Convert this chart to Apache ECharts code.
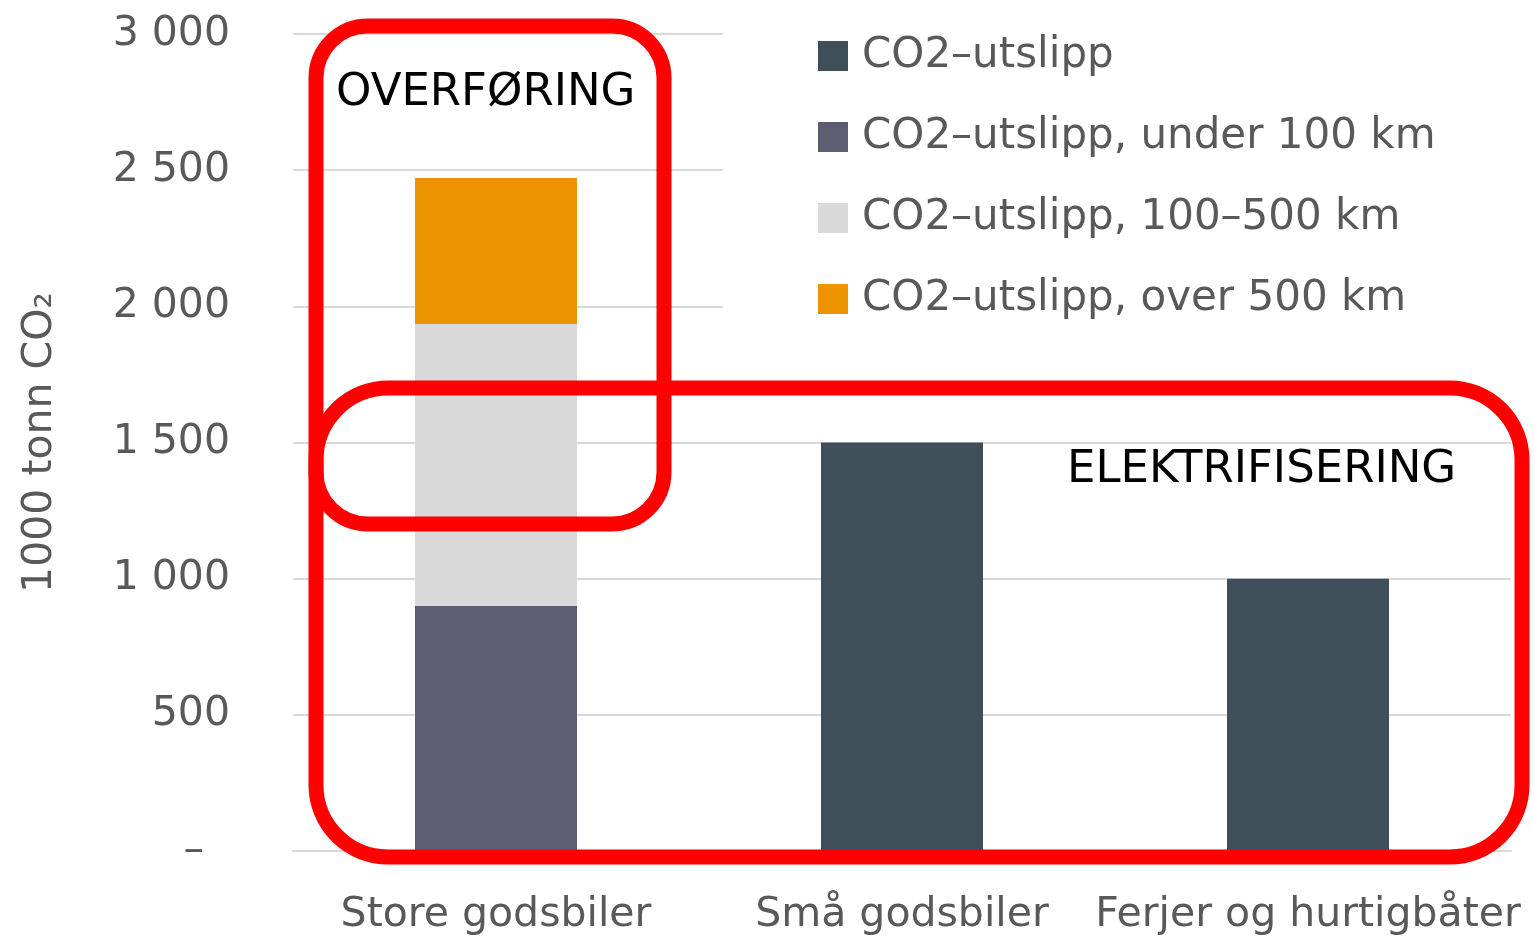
<!DOCTYPE html>
<html><head><meta charset="utf-8">
<script src="https://cdn.jsdelivr.net/npm/echarts@6/dist/echarts.min.js"></script>
<style>html,body{margin:0;padding:0;background:#fff}#c{width:1535px;height:937px}</style>
</head><body><div id="c"></div>
<script>
const categories = ['Store godsbiler', 'Små godsbiler', 'Ferjer og hurtigbåter'];
const seriesNames = ['CO2–utslipp', 'CO2–utslipp, under 100 km', 'CO2–utslipp, 100–500 km', 'CO2–utslipp, over 500 km'];
const co2Total = [null, 1500, 1000];
const co2Under100 = [900, null, null];
const co2_100_500 = [1035, null, null];
const co2Over500 = [536, null, null];
const colors = ['#3f4f5a', '#5c5c72', '#d9d9d9', '#ed9400'];
const FONT = '"DejaVu Sans", sans-serif';

const chart = echarts.init(document.getElementById('c'));
const mk = (name, data, color) => ({
  name, type: 'bar', stack: 'tot', data, barWidth: 162,
  itemStyle: { color }, emphasis: { disabled: true }
});
chart.setOption({
  animation: false,
  textStyle: { fontFamily: FONT },
  grid: { left: 293, right: 24, top: 34, bottom: 86 },
  legend: {
    orient: 'vertical', left: 723, top: 0,
    padding: [35, 120, 20, 95],
    backgroundColor: '#fff',
    itemWidth: 30, itemHeight: 30, itemGap: 39,
    icon: 'rect',
    data: seriesNames,
    textStyle: { fontSize: 42, color: '#595959', fontFamily: FONT, padding: [0,0,0,9] }
  },
  xAxis: {
    type: 'category', data: categories,
    axisLine: { lineStyle: { color: '#d9d9d9', width: 2 } },
    axisTick: { show: false },
    axisLabel: { fontSize: 41, color: '#595959', margin: 44, interval: 0 }
  },
  yAxis: {
    type: 'value', min: 0, max: 3000, interval: 500,
    name: '1000 tonn CO₂', nameLocation: 'middle', nameGap: 232, nameRotate: 90,
    nameTextStyle: { fontSize: 41, color: '#595959' },
    axisLabel: {
      fontSize: 41, color: '#595959', margin: 63,
      formatter: v => v === 0 ? '–  ' : String(v).replace(/\B(?=(\d{3})+(?!\d))/g, ' ')
    },
    splitLine: { lineStyle: { color: '#d9d9d9', width: 2 } }
  },
  series: [
    mk(seriesNames[0], co2Total, colors[0]),
    mk(seriesNames[1], co2Under100, colors[1]),
    mk(seriesNames[2], co2_100_500, colors[2]),
    mk(seriesNames[3], co2Over500, colors[3])
  ],
  graphic: [
    { type: 'text', left: 1047, top: 444, z: 50,
      style: { text: 'ELEKTRIFISERING', fontSize: 45, fill: '#000', fontFamily: FONT,
               backgroundColor: '#fff', padding: [4, 28, 4, 20] } },
    { type: 'text', left: 336, top: 71, z: 50,
      style: { text: 'OVERFØRING', fontSize: 45, fill: '#000', fontFamily: FONT } },
    { type: 'rect', z: 100, shape: { x: 316, y: 26, width: 348, height: 498, r: 52 },
      style: { fill: 'none', stroke: '#ff0000', lineWidth: 15 } },
    { type: 'rect', z: 100, shape: { x: 316, y: 388, width: 1206, height: 469, r: 72 },
      style: { fill: 'none', stroke: '#ff0000', lineWidth: 15 } }
  ]
});
</script></body></html>
